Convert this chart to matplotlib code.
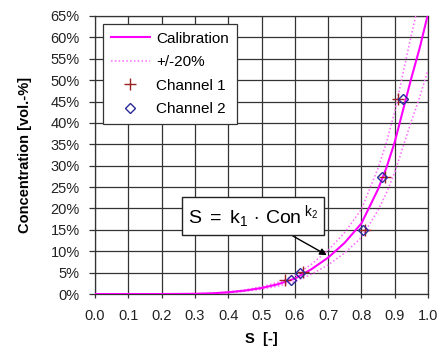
import numpy as np
import matplotlib.pyplot as plt
from matplotlib.ticker import PercentFormatter, MultipleLocator

plt.rcParams['font.family'] = ['Liberation Sans', 'DejaVu Sans']
plt.rcParams['mathtext.fontset'] = 'custom'
plt.rcParams['mathtext.rm'] = 'Liberation Sans'
plt.rcParams['mathtext.it'] = 'Liberation Sans'

# calibration curve (S [-], concentration [vol.-%])
cal_s = [0.0, 0.2, 0.3, 0.35, 0.4, 0.45, 0.5, 0.55, 0.6, 0.65, 0.7, 0.75, 0.8,
         0.85, 0.875, 0.9, 0.925, 0.95, 0.975, 1.0]
cal_c = [0.0, 0.0, 0.05, 0.15, 0.4, 0.8, 1.4, 2.3, 3.6, 5.8, 8.5, 12.0, 16.5,
         24.5, 29.5, 35.5, 43.0, 50.5, 57.5, 65.5]
band = 0.20

ch1_s = [0.57, 0.626, 0.81, 0.871, 0.91]
ch1_c = [3.3, 5.2, 15.0, 27.4, 45.5]
ch2_s = [0.59, 0.616, 0.806, 0.861, 0.925]
ch2_c = [3.3, 4.8, 15.0, 27.4, 45.5]

cal_c = np.array(cal_c)

fig = plt.figure(figsize=(4.45, 3.47), dpi=100)
ax = fig.add_axes([0.2135, 0.1527, 0.7483, 0.8012])

magenta = '#FF00FF'
ax.plot(cal_s, cal_c, color=magenta, lw=1.5, label='Calibration', zorder=4)
ax.plot(cal_s, cal_c * (1 + band), color='#FF66FF', lw=1.1, ls=(0, (1, 1.5)),
        label='+/-20%', zorder=3)
ax.plot(cal_s, cal_c * (1 - band), color='#FF66FF', lw=1.1, ls=(0, (1, 1.5)), zorder=3)
ax.plot(ch1_s, ch1_c, ls='none', marker='+', ms=9, mew=1.0, color='#992222',
        label='Channel 1', zorder=5)
ax.plot(ch2_s, ch2_c, ls='none', marker='D', ms=5, mew=1.0, mfc='none',
        mec='#2A2A99', label='Channel 2', zorder=5)

ax.set_xlim(0, 1.0)
ax.set_ylim(0, 65)
ax.xaxis.set_major_locator(MultipleLocator(0.1))
ax.yaxis.set_major_locator(MultipleLocator(5))
ax.xaxis.set_major_formatter(lambda v, p: f'{v:.1f}')
ax.yaxis.set_major_formatter(PercentFormatter(decimals=0))
ax.grid(True, color='#333333', lw=0.9)
ax.set_axisbelow(True)
for sp in ax.spines.values():
    sp.set_color('#333333')
    sp.set_linewidth(0.9)
ax.tick_params(axis='x', length=3, width=0.9, color='#333333', pad=8, labelsize=10.5, labelcolor='#222222')
ax.tick_params(axis='y', length=4, width=0.9, color='#333333', pad=7, labelsize=10.5, labelcolor='#222222')

ax.set_xlabel('S  [-]', fontsize=10.5, fontweight='bold')
ax.set_ylabel('Concentration [vol.-%]', fontsize=10.5, fontweight='bold')
ax.xaxis.set_label_coords(0.5, -0.135)
ax.yaxis.set_label_coords(-0.19, 0.5)

leg = ax.legend(loc='upper left', bbox_to_anchor=(0.024, 0.971), borderaxespad=0,
                fontsize=11, frameon=True, fancybox=False, framealpha=1,
                edgecolor='#333333', handlelength=2.6, handletextpad=0.4,
                labelspacing=0.62, borderpad=0.5)
leg.get_frame().set_linewidth(0.9)

ax.annotate(r'$\mathrm{S\ =\ k_1\,\cdot\,Con^{\ k_2}}$', xy=(0.696, 9.1), xytext=(0.474, 18.2),
            fontsize=14, ha='center', va='center', zorder=6,
            bbox=dict(boxstyle='square,pad=0.3', fc='white', ec='#222222', lw=1),
            arrowprops=dict(arrowstyle='-|>', color='black', lw=1.0, mutation_scale=10,
                            shrinkA=0, shrinkB=0, relpos=(0.72, 0.0)))

fig.savefig('out.png', dpi=100)
